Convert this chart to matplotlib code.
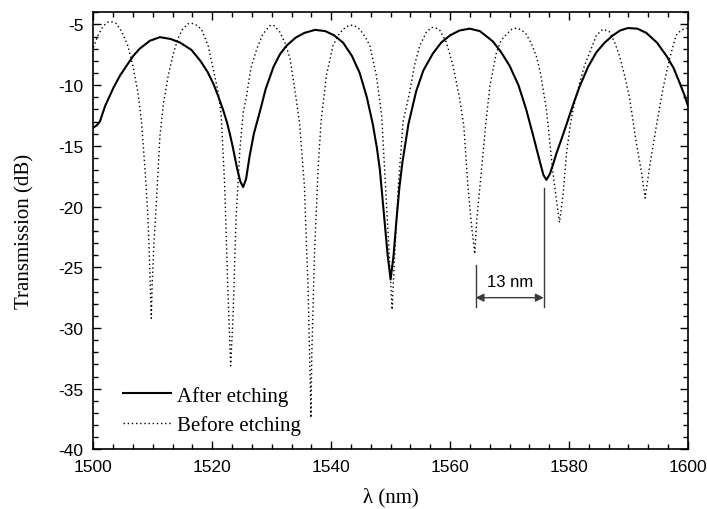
import matplotlib
matplotlib.use("Agg")
import matplotlib.pyplot as plt
from matplotlib.ticker import MultipleLocator, AutoMinorLocator

# wavelength (nm) / transmission (dB)
lam_after = [1500.0, 1500.6, 1501.1, 1502.0, 1503.4, 1504.5, 1505.6, 1506.7, 1507.8, 1509.5,
             1511.2, 1513.0, 1514.6, 1516.5, 1518.0, 1519.2, 1520.2, 1521.0, 1521.8, 1522.5,
             1523.0, 1523.5, 1524.2, 1524.7, 1525.2, 1525.7, 1526.3, 1527.0, 1528.0, 1529.0,
             1530.3, 1531.4, 1532.5, 1534.0, 1535.5, 1537.3, 1539.0, 1540.5, 1542.0, 1543.5,
             1544.8, 1546.0, 1547.0, 1547.7, 1548.2, 1549.0, 1549.5, 1550.0, 1550.5, 1551.0,
             1551.5, 1552.0, 1553.0, 1554.3, 1555.5, 1557.1, 1558.5, 1560.0, 1561.6, 1563.3,
             1565.0, 1567.2, 1568.6, 1570.0, 1571.5, 1572.8, 1574.0, 1575.1, 1575.7, 1576.2,
             1576.8, 1577.4, 1577.9, 1578.7, 1579.6, 1580.7, 1581.8, 1583.2, 1584.6, 1586.0,
             1587.4, 1588.6, 1589.9, 1591.5, 1593.0, 1594.8, 1596.4, 1597.6, 1598.6, 1599.4,
             1600.0]
t_after = [-13.5, -13.3, -13.0, -11.7, -10.2, -9.2, -8.4, -7.6, -7.0, -6.35,
           -6.05, -6.2, -6.5, -7.1, -8.0, -8.9, -9.9, -10.9, -12.0, -13.1,
           -14.1, -15.2, -16.9, -17.9, -18.4, -17.7, -15.8, -14.0, -12.2, -10.3,
           -8.5, -7.45, -6.75, -6.1, -5.7, -5.45, -5.55, -5.9, -6.5, -7.6,
           -9.0, -11.0, -13.2, -15.2, -17.0, -21.3, -24.0, -26.0, -24.0, -21.0,
           -18.3, -16.3, -13.2, -10.5, -8.8, -7.4, -6.5, -5.9, -5.5, -5.35,
           -5.55, -6.4, -7.3, -8.4, -10.0, -12.0, -14.2, -16.3, -17.4, -17.8,
           -17.3, -16.4, -15.6, -14.5, -13.2, -11.6, -10.1, -8.5, -7.3, -6.5,
           -5.9, -5.5, -5.3, -5.35, -5.7, -6.5, -7.6, -8.6, -9.8, -10.8,
           -11.7]

lam_before = [1500.0, 1500.8, 1501.7, 1502.5, 1503.0, 1503.8, 1504.8, 1505.8, 1506.7, 1507.5,
              1508.1, 1508.7, 1509.2, 1509.5, 1509.75, 1509.9, 1510.2, 1510.6, 1511.2, 1511.8,
              1512.6, 1513.4, 1514.2, 1515.0, 1515.9, 1516.5, 1517.3, 1518.2, 1519.3, 1520.4,
              1521.0, 1521.5, 1522.1, 1522.6, 1523.1, 1523.5, 1524.0, 1524.65, 1525.2, 1525.8,
              1526.5, 1527.5, 1528.5, 1529.7, 1530.4, 1531.4, 1532.3, 1533.1, 1534.2, 1534.7,
              1535.5, 1536.1, 1536.5, 1536.6, 1536.75, 1537.2, 1537.8, 1538.3, 1539.2, 1540.3,
              1541.2, 1542.0, 1543.1, 1543.9, 1544.8, 1545.7, 1546.5, 1547.6, 1548.5, 1549.3,
              1549.9, 1550.25, 1550.7, 1551.3, 1552.1, 1553.2, 1554.0, 1554.9, 1556.0, 1556.9,
              1557.6, 1558.3, 1559.4, 1560.5, 1561.6, 1562.3, 1563.0, 1563.6, 1564.15, 1564.5,
              1565.3, 1566.0, 1566.7, 1567.8, 1568.6, 1569.5, 1570.4, 1571.2, 1572.0, 1572.8,
              1573.7, 1574.5, 1575.2, 1576.2, 1577.3, 1577.9, 1578.4, 1579.0, 1579.6, 1580.3,
              1581.0, 1581.8, 1582.6, 1583.5, 1584.6, 1585.7, 1586.8, 1587.7, 1588.5, 1589.4,
              1590.2, 1591.3, 1592.2, 1592.8, 1593.6, 1594.7, 1595.8, 1596.9, 1598.0, 1598.6,
              1599.2, 1600.0]
t_before = [-6.9, -5.9, -5.1, -4.8, -4.77, -4.9, -5.6, -6.75, -8.5, -10.6,
            -13.0, -17.0, -21.0, -25.2, -29.2, -26.3, -23.0, -19.7, -14.2, -11.5,
            -9.2, -7.5, -6.2, -5.4, -4.96, -4.9, -5.05, -5.4, -6.75, -9.2,
            -10.6, -12.4, -18.3, -26.5, -33.1, -29.0, -21.0, -15.3, -12.3, -10.8,
            -8.6, -7.0, -5.8, -5.1, -5.1, -5.65, -6.6, -7.85, -11.4, -13.2,
            -18.3, -26.5, -34.8, -37.4, -32.0, -23.8, -16.9, -13.0, -9.2, -6.75,
            -5.9, -5.4, -5.05, -5.1, -5.4, -6.0, -6.75, -9.2, -12.5, -19.7,
            -25.2, -28.5, -23.8, -18.3, -13.0, -10.6, -8.4, -6.75, -5.65, -5.24,
            -5.3, -5.5, -6.5, -8.4, -11.1, -13.3, -18.3, -21.5, -23.9, -21.0,
            -16.9, -13.2, -10.05, -7.3, -6.3, -5.8, -5.4, -5.3, -5.45, -5.8,
            -6.6, -7.6, -9.0, -12.0, -17.2, -19.5, -21.3, -19.0, -15.5, -13.0,
            -11.3, -9.8, -8.4, -7.3, -5.9, -5.4, -5.6, -6.5, -7.6, -9.3,
            -11.1, -14.7, -17.2, -19.3, -16.6, -13.35, -10.3, -7.85, -5.9, -5.6,
            -5.4, -5.3]

# spacing marker between the 1564 nm (before) and 1576 nm (after) dips
mark_left, mark_right = 1564.3, 1575.75
mark_left_top, mark_right_top, mark_bottom = -24.8, -18.5, -28.3
arrow_y = -27.5
mark_text = "13 nm"

plt.rcParams["axes.unicode_minus"] = False
serif = "Liberation Serif"
sans = "Liberation Sans"

fig = plt.figure(figsize=(7.07, 5.10), dpi=100)
ax = fig.add_axes([0.132, 0.1167, 0.841, 0.8573])

ax.plot(lam_after, t_after, color="black", lw=1.5, label="After etching")
ax.plot(lam_before, t_before, color="black", lw=1.0, linestyle=(0, (1, 2)),
        label="Before etching")

gray = "#3a3a3a"
ax.plot([mark_left, mark_left], [mark_left_top, mark_bottom], color=gray, lw=1.0)
ax.plot([mark_right, mark_right], [mark_right_top, mark_bottom], color=gray, lw=1.0)
ax.annotate("", xy=(mark_right, arrow_y), xytext=(mark_left, arrow_y),
            arrowprops=dict(arrowstyle="<|-|>", color=gray, lw=1.0,
                            mutation_scale=12, shrinkA=0, shrinkB=0))
ax.text((mark_left + mark_right) / 2, arrow_y + 0.7, mark_text, ha="center",
        va="bottom", fontsize=12, family=sans)

ax.set_xlim(1500, 1600)
ax.set_ylim(-40, -4)
ax.xaxis.set_major_locator(MultipleLocator(20))
ax.xaxis.set_minor_locator(AutoMinorLocator(6))
ax.yaxis.set_major_locator(MultipleLocator(5))
ax.yaxis.set_minor_locator(AutoMinorLocator(5))
ax.tick_params(which="both", direction="in", top=True, right=True, width=1.0)
ax.tick_params(which="major", length=6, pad=7, labelsize=12.5)
ax.tick_params(which="minor", length=3.5)
for lab in ax.get_xticklabels() + ax.get_yticklabels():
    lab.set_family(sans)
for sp in ax.spines.values():
    sp.set_linewidth(1.2)

ax.set_xlabel("\u03bb (nm)", fontsize=15, family=serif, labelpad=9)
ax.set_ylabel("Transmission (dB)", fontsize=15, family=serif, labelpad=17)

ax.legend(loc="lower left", frameon=False, prop={"family": serif, "size": 15},
          handlelength=2.3, handletextpad=0.3, labelspacing=0.45,
          borderaxespad=0.3, bbox_to_anchor=(0.025, 0.0))

fig.savefig("out.png", dpi=100)
